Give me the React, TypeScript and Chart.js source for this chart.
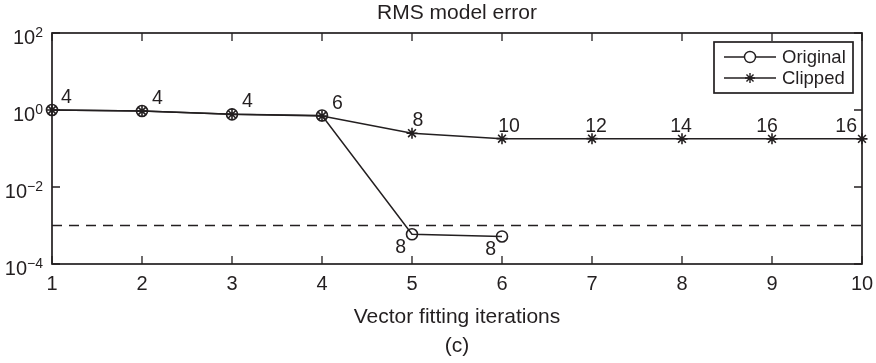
import React, { useEffect, useRef } from 'react';
import { Chart, registerables } from 'chart.js';

Chart.register(...registerables);

const iterations = [1, 2, 3, 4, 5, 6, 7, 8, 9, 10];
const originalRms = [1.0, 0.94, 0.77, 0.72, 5.9e-4, 5.2e-4];
const clippedRms = [1.0, 0.94, 0.77, 0.7, 0.25, 0.18, 0.18, 0.178, 0.178, 0.178];
const clippedPoleLabels = ['4', '4', '4', '6', '8', '10', '12', '14', '16', '16'];
const originalPoleLabels = ['', '', '', '', '8', '8'];
const thresholdRms = 1e-3;
const xTickValues = [1, 2, 3, 4, 5, 6, 7, 8, 9, 10];
const yTickExponents = [-4, -2, 0, 2];
const titleText = 'RMS model error';
const xAxisTitle = 'Vector fitting iterations';
const captionText = '(c)';
const legendLabels = ['Original', 'Clipped'];

const INK = '#231f20';
const FONT = '"Liberation Sans", Arial, Helvetica, sans-serif';

// label placement styling (pixels), not data
const clippedLabelStyle = [
  { align: 'left', dx: 9 },
  { align: 'left', dx: 10 },
  { align: 'left', dx: 10 },
  { align: 'left', dx: 10 },
  { align: 'center', dx: 6 },
  { align: 'center', dx: 7 },
  { align: 'center', dx: 4 },
  { align: 'center', dx: -1 },
  { align: 'center', dx: -5 },
  { align: 'right', dx: -5 },
];

function drawStar(ctx: CanvasRenderingContext2D, x: number, y: number, r: number) {
  ctx.beginPath();
  ctx.moveTo(x - r, y);
  ctx.lineTo(x + r, y);
  ctx.moveTo(x, y - r);
  ctx.lineTo(x, y + r);
  const d = r * Math.SQRT1_2;
  ctx.moveTo(x - d, y - d);
  ctx.lineTo(x + d, y + d);
  ctx.moveTo(x - d, y + d);
  ctx.lineTo(x + d, y - d);
  ctx.stroke();
}

const decorPlugin = {
  id: 'decor',
  afterDraw(chart: any) {
    const { ctx, chartArea: a, scales } = chart;
    const xs = scales.x;
    const ys = scales.y;
    ctx.save();
    ctx.strokeStyle = INK;
    ctx.fillStyle = INK;

    // frame
    ctx.lineWidth = 1.7;
    ctx.strokeRect(a.left, a.top, a.right - a.left, a.bottom - a.top);

    // x ticks + labels
    ctx.lineWidth = 1.3;
    ctx.font = `20px ${FONT}`;
    ctx.textAlign = 'center';
    ctx.textBaseline = 'alphabetic';
    xTickValues.forEach((v) => {
      const px = xs.getPixelForValue(v);
      ctx.beginPath();
      ctx.moveTo(px, a.bottom);
      ctx.lineTo(px, a.bottom - 8);
      ctx.moveTo(px, a.top);
      ctx.lineTo(px, a.top + 8);
      ctx.stroke();
      ctx.fillText(String(v), px, a.bottom + 26);
    });

    // y ticks + labels with superscripts
    yTickExponents.forEach((e) => {
      const py = ys.getPixelForValue(Math.pow(10, e));
      ctx.beginPath();
      ctx.moveTo(a.left, py);
      ctx.lineTo(a.left + 8, py);
      ctx.moveTo(a.right, py);
      ctx.lineTo(a.right - 8, py);
      ctx.stroke();
      const sup = e < 0 ? '\u2212' + String(-e) : String(e);
      ctx.font = `14px ${FONT}`;
      const supW = ctx.measureText(sup).width;
      ctx.font = `20px ${FONT}`;
      const baseW = ctx.measureText('10').width;
      const right = a.left - 9;
      ctx.textAlign = 'left';
      ctx.fillText('10', right - supW - baseW, py + 11);
      ctx.font = `14px ${FONT}`;
      ctx.fillText(sup, right - supW, py + 4);
    });

    // data labels
    ctx.font = `19.5px ${FONT}`;
    ctx.textBaseline = 'alphabetic';
    clippedPoleLabels.forEach((t, i) => {
      const px = xs.getPixelForValue(iterations[i]);
      const py = ys.getPixelForValue(clippedRms[i]);
      const st = clippedLabelStyle[i];
      ctx.textAlign = st.align;
      ctx.fillText(t, px + st.dx, py - 7);
    });
    originalPoleLabels.forEach((t, i) => {
      if (!t) return;
      const px = xs.getPixelForValue(iterations[i]);
      const py = ys.getPixelForValue(originalRms[i]);
      ctx.textAlign = 'right';
      ctx.fillText(t, px - 6, py + 19);
    });

    // titles
    const cx = (a.left + a.right) / 2;
    ctx.font = `21px ${FONT}`;
    ctx.textAlign = 'center';
    ctx.fillText(titleText, cx, 19);
    ctx.fillText(xAxisTitle, cx, 323);
    ctx.fillText(captionText, cx, 352);

    // legend
    const bw = 139;
    const bh = 51;
    const bx = a.right - 9 - bw;
    const by = a.top + 9;
    ctx.fillStyle = '#ffffff';
    ctx.fillRect(bx, by, bw, bh);
    ctx.lineWidth = 1.7;
    ctx.strokeStyle = INK;
    ctx.strokeRect(bx, by, bw, bh);
    ctx.fillStyle = INK;
    ctx.font = `18.5px ${FONT}`;
    ctx.textAlign = 'left';
    ctx.textBaseline = 'middle';
    const rows = [by + 15, by + 36];
    legendLabels.forEach((lab, i) => {
      const ly = rows[i];
      ctx.lineWidth = 1.4;
      ctx.beginPath();
      ctx.moveTo(bx + 10, ly);
      ctx.lineTo(bx + 62, ly);
      ctx.stroke();
      const mx = bx + 36;
      if (i === 0) {
        ctx.fillStyle = '#ffffff';
        ctx.beginPath();
        ctx.arc(mx, ly, 5.5, 0, Math.PI * 2);
        ctx.fill();
        ctx.stroke();
        ctx.fillStyle = INK;
      } else {
        drawStar(ctx, mx, ly, 5);
      }
      ctx.fillText(lab, bx + 68, ly + 1);
    });

    ctx.restore();
  },
};

export default function App() {
  const ref = useRef<HTMLCanvasElement | null>(null);

  useEffect(() => {
    document.body.style.margin = '0';
    const canvas = ref.current;
    if (!canvas) return;
    const chart = new Chart(canvas, {
      type: 'line',
      data: {
        datasets: [
          {
            label: 'Threshold',
            data: [
              { x: iterations[0], y: thresholdRms },
              { x: iterations[iterations.length - 1], y: thresholdRms },
            ],
            borderColor: INK,
            borderWidth: 1.5,
            borderDash: [10, 7],
            pointRadius: 0,
            clip: false,
          },
          {
            label: legendLabels[0],
            data: originalRms.map((v, i) => ({ x: iterations[i], y: v })),
            borderColor: INK,
            borderWidth: 1.5,
            pointStyle: 'circle',
            pointRadius: 5.5,
            pointBorderWidth: 1.6,
            pointBorderColor: INK,
            pointBackgroundColor: 'rgba(255,255,255,0)',
            clip: false,
          },
          {
            label: legendLabels[1],
            data: clippedRms.map((v, i) => ({ x: iterations[i], y: v })),
            borderColor: INK,
            borderWidth: 1.5,
            pointStyle: 'star',
            pointRadius: 5.5,
            pointBorderWidth: 1.6,
            pointBorderColor: INK,
            clip: false,
          },
        ],
      },
      options: {
        animation: false,
        responsive: true,
        maintainAspectRatio: false,
        events: [],
        layout: {
          autoPadding: false,
          padding: { left: 52, right: 14, top: 33, bottom: 99 },
        },
        elements: { line: { tension: 0 } },
        plugins: {
          legend: { display: false },
          title: { display: false },
          tooltip: { enabled: false },
        },
        scales: {
          x: {
            type: 'linear',
            min: 1,
            max: 10,
            ticks: { display: false },
            grid: { display: false, drawTicks: false },
            border: { display: false },
          },
          y: {
            type: 'logarithmic',
            min: 1e-4,
            max: 100,
            ticks: { display: false },
            grid: { display: false, drawTicks: false },
            border: { display: false },
          },
        },
      } as any,
      plugins: [decorPlugin],
    });
    return () => chart.destroy();
  }, []);

  return (
    <div style={{ position: 'relative', width: 876, height: 363, background: '#fff' }}>
      <canvas ref={ref} />
    </div>
  );
}
